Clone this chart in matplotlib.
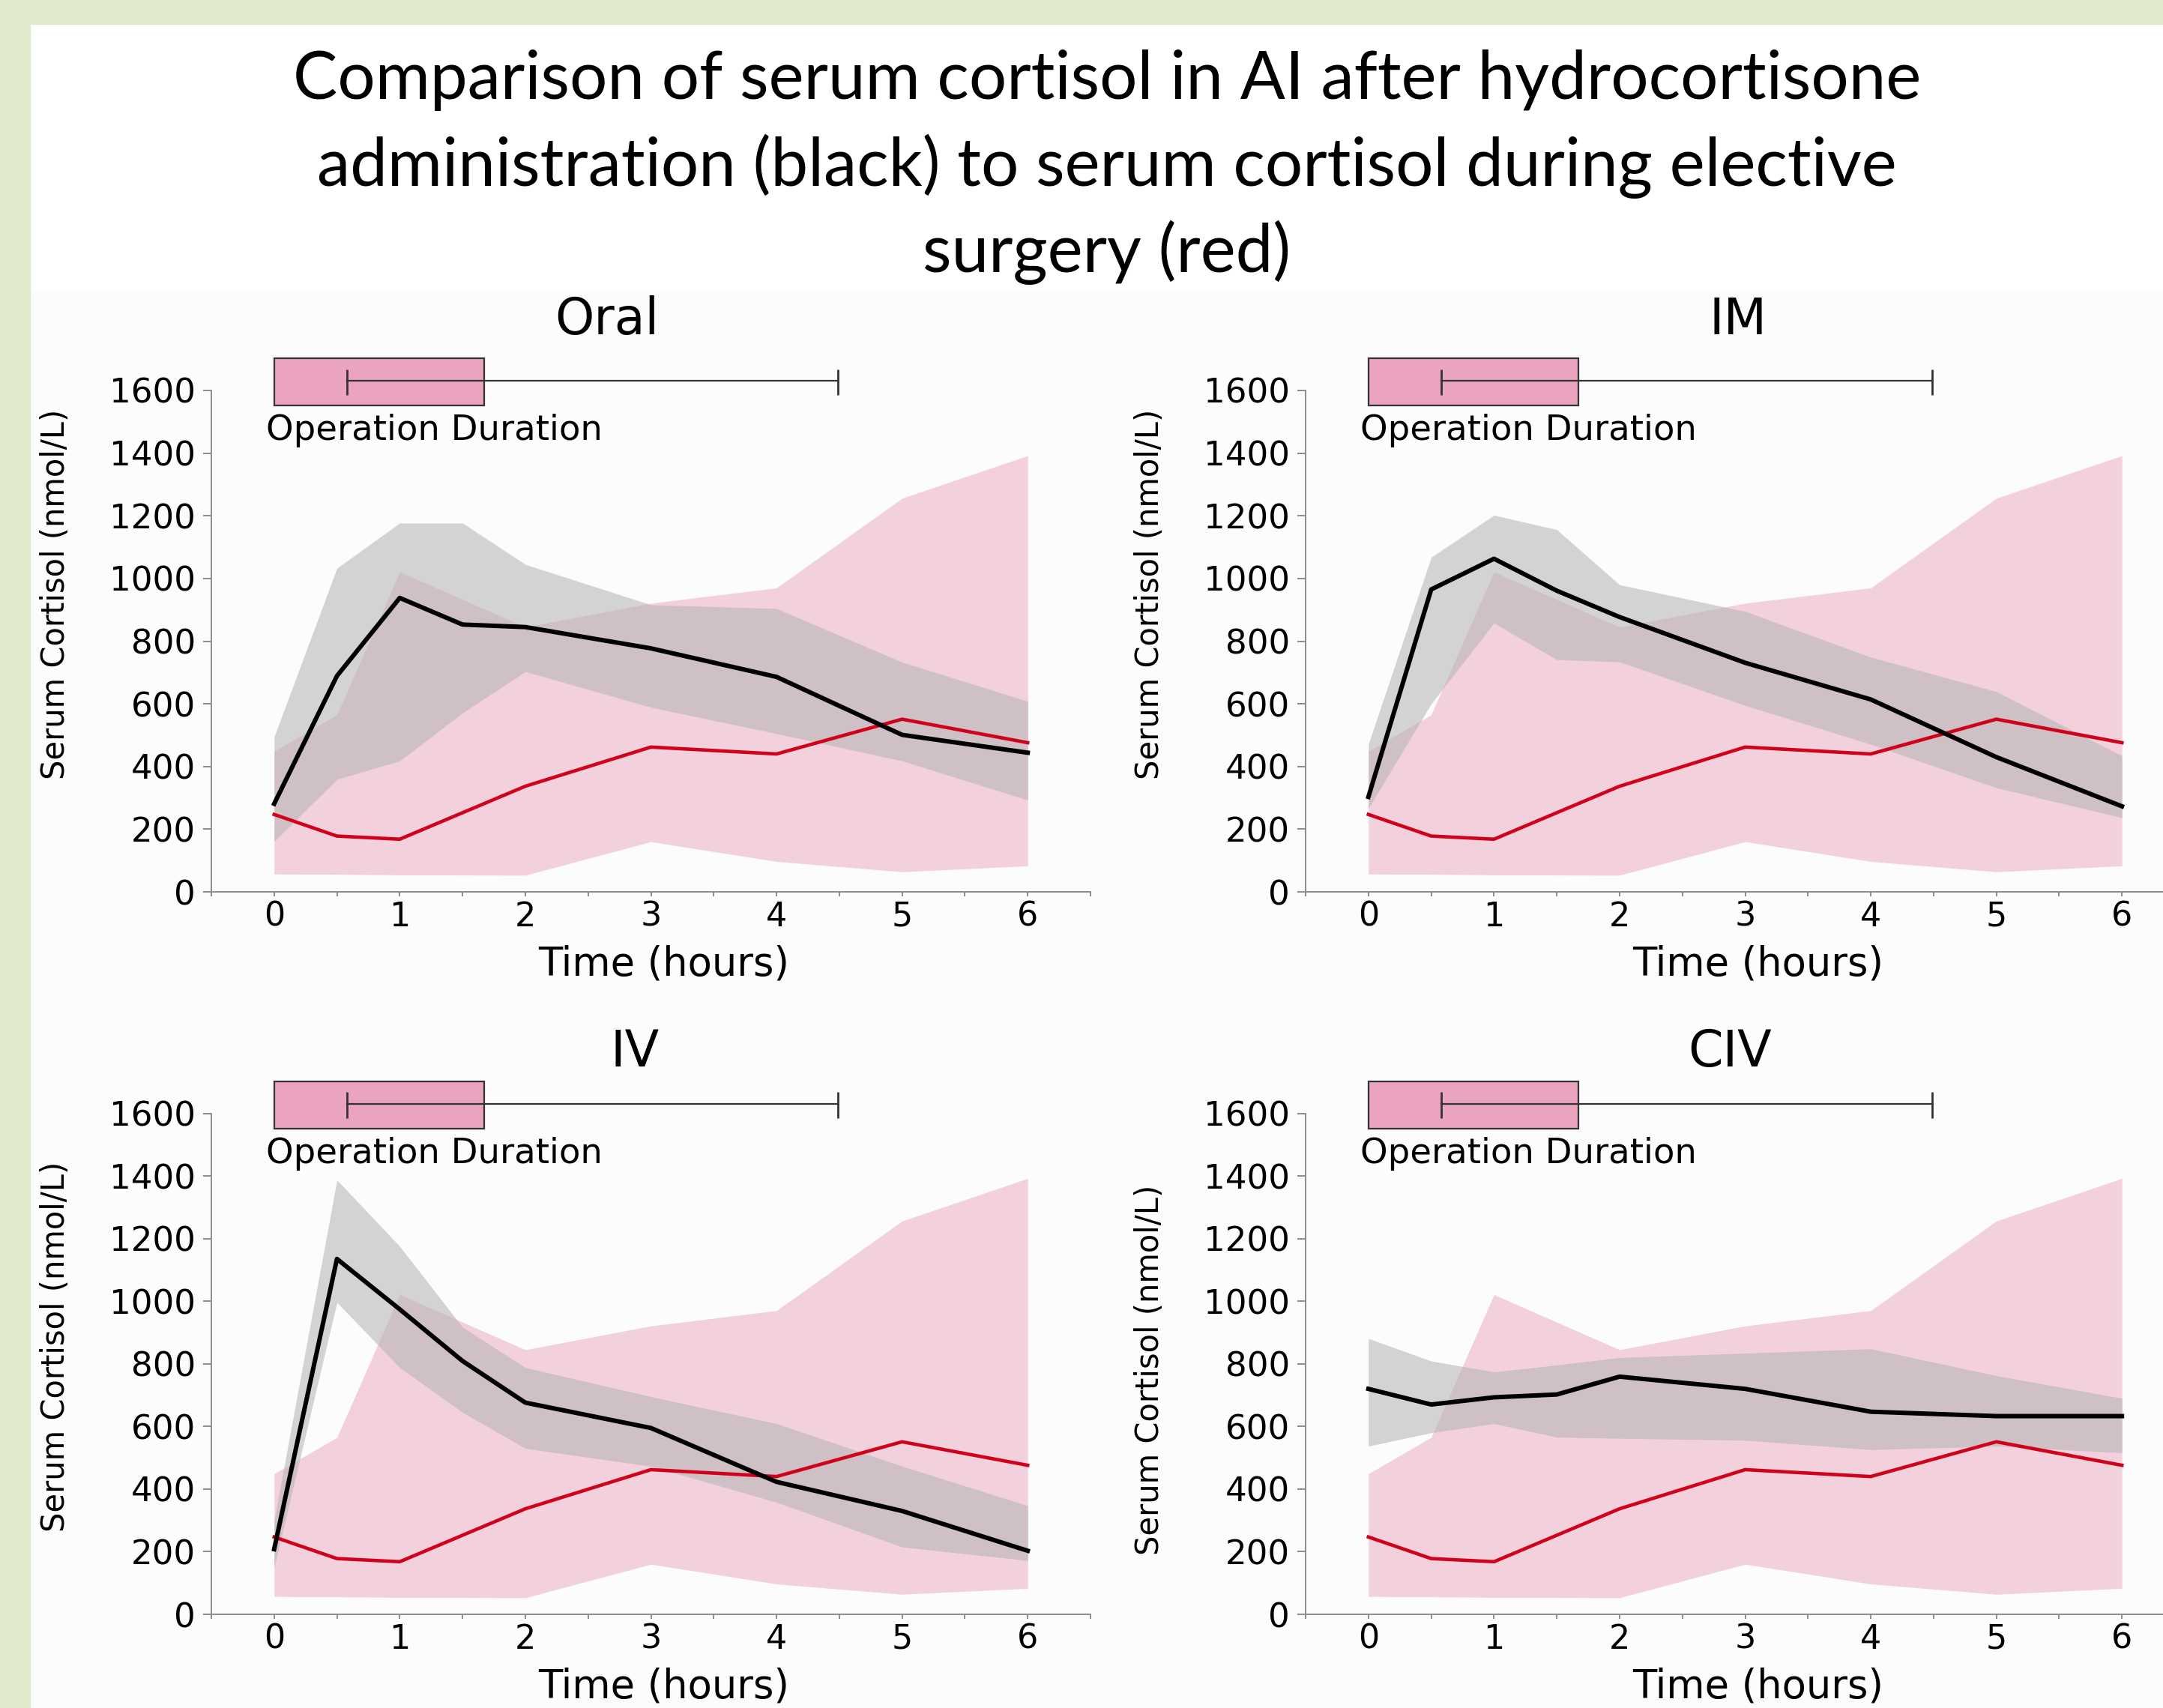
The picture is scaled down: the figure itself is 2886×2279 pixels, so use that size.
import numpy as np
import matplotlib.pyplot as plt
from matplotlib.patches import Rectangle

# - - - data (serum cortisol, nmol/L) - - -
t_ai = [0, 0.5, 1, 1.5, 2, 3, 4, 5, 6]
t_surg = [0, 0.5, 1, 2, 3, 4, 5, 6]

# elective surgery (red), same in every panel
surg_mean = [247, 178, 168, 337, 462, 440, 551, 476]
surg_hi = [449, 565, 1021, 845, 921, 970, 1256, 1392]
surg_lo = [57, 56, 54, 53, 160, 97, 64, 83]

# hydrocortisone administration (black)
oral_mean = [281, 689, 938, 853, 845, 777, 686, 501, 444]
oral_hi = [495, 1033, 1177, 1177, 1045, 916, 904, 733, 608]
oral_lo = [161, 359, 418, 571, 703, 589, 505, 418, 293]

im_mean = [303, 965, 1063, 961, 877, 731, 614, 430, 273]
im_hi = [471, 1068, 1202, 1156, 980, 895, 749, 639, 434]
im_lo = [266, 600, 858, 741, 734, 595, 471, 332, 237]

iv_mean = [208, 1135, 974, 809, 676, 595, 423, 330, 203]
iv_hi = [300, 1387, 1175, 917, 788, 695, 609, 473, 347]
iv_lo = [150, 996, 788, 645, 530, 473, 358, 215, 172]

civ_mean = [720, 670, 693, 702, 759, 720, 647, 633, 633]
civ_hi = [881, 809, 774, 796, 820, 834, 848, 762, 690]
civ_lo = [537, 580, 609, 566, 562, 556, 526, 537, 516]

panel_names = ['Oral', 'IM', 'IV', 'CIV']

# operation duration (hours): box and whisker
op_box = [0.0, 1.67]
op_whisker = [0.58, 4.49]

title_lines = ['Comparison of serum cortisol in AI after hydrocortisone',
               'administration (black) to serum cortisol during elective',
               'surgery (red)']

# - - - figure - - -
W, H = 2886, 2279
DPI = 100
fig = plt.figure(figsize=(W / DPI, H / DPI), dpi=DPI, facecolor='white')

# slide background pieces
fig.patches.append(Rectangle((40 / W, 0), 1, 1 - 390 / H, transform=fig.transFigure,
                             color='#FCFCFC', zorder=-2))
fig.patches.append(Rectangle((0, 1 - 32 / H), 1, 32 / H, transform=fig.transFigure,
                             color='#E1EACD', zorder=-1))
fig.patches.append(Rectangle((0, 0), 40 / W, 1, transform=fig.transFigure,
                             color='#E1EACD', zorder=-1))

for i, line in enumerate(title_lines):
    fig.text(1477 / W, 1 - (107 + 115 * i) / H, line, ha='center', va='center',
             fontsize=64, family=['Lato', 'DejaVu Sans'], color='black')

panels = [(oral_mean, oral_hi, oral_lo), (im_mean, im_hi, im_lo),
          (iv_mean, iv_hi, iv_lo), (civ_mean, civ_hi, civ_lo)]

col_left = [282 / W, 1742 / W]
ax_w = (1455 - 282) / W
row_bottom = [1 - 1190 / H, 1 - 2154 / H]
row_h = [(1190 - 521) / H, (2154 - 1485.5) / H]
title_pos = [(0.45, 1.14), (0.492, 1.14), (0.482, 1.122), (0.4825, 1.122)]
ylabel_y = [0.593, 0.593, 0.534, 0.488]

spine_col = '#8C8C8C'

for k, (mean, hi, lo) in enumerate(panels):
    r, c = divmod(k, 2)
    ax = fig.add_axes([col_left[c], row_bottom[r], ax_w, row_h[r]], zorder=2)
    ax.set_facecolor('none')

    ax.fill_between(t_surg, surg_lo, surg_hi, color='#F2D0DC', lw=0, zorder=1)
    ax.fill_between(t_ai, lo, hi, color='#B4B4B4', alpha=0.57, lw=0, zorder=2)
    ax.plot(t_surg, surg_mean, color='#D0021B', lw=3.3, zorder=3, solid_joinstyle='round')
    ax.plot(t_ai, mean, color='black', lw=4.3, zorder=4, solid_joinstyle='round')

    ax.set_xlim(-0.5, 6.5)
    ax.set_ylim(0, 1600)
    for s in ['top', 'right']:
        ax.spines[s].set_visible(False)
    for s in ['left', 'bottom']:
        ax.spines[s].set_color(spine_col)
        ax.spines[s].set_linewidth(1.4)

    ax.set_xticks(range(0, 7))
    ax.set_xticks(np.arange(-0.5, 6.6, 1.0), minor=True)
    ax.set_yticks(range(0, 1601, 200))
    ax.tick_params(axis='x', which='both', length=4.5, width=1.4, color=spine_col,
                   labelsize=32, pad=4)
    ax.tick_params(axis='y', length=8, width=1.4, color=spine_col, labelsize=32.5, pad=7)
    for lab in ax.get_xticklabels() + ax.get_yticklabels():
        lab.set_family('DejaVu Sans')

    ax.set_xlabel('Time (hours)', fontsize=38, va='center')
    ax.xaxis.set_label_coords(0.515, -97 / 669)
    ax.set_ylabel('Serum Cortisol (nmol/L)', fontsize=30, va='center')
    ax.yaxis.set_label_coords(-208 / 1173, ylabel_y[k])

    tx, ty = title_pos[k]
    ax.text(tx, ty, panel_names[k], transform=ax.transAxes, ha='center', va='center',
            fontsize=48)

    # operation duration marker above the plot
    ax.add_patch(Rectangle((op_box[0], 1552), op_box[1] - op_box[0], 150,
                           facecolor='#EAA4C0', edgecolor='#333333', lw=1.6,
                           clip_on=False, zorder=5))
    ax.plot(op_whisker, [1630, 1630], color='#333333', lw=1.6, clip_on=False, zorder=6)
    ax.vlines(op_whisker, 1585, 1668, color='#333333', lw=2.0, clip_on=False, zorder=6)
    ax.text(-0.066, 1442, 'Operation Duration', ha='left', va='baseline', fontsize=33.5,
            zorder=6)

fig.savefig('out.png', dpi=DPI, facecolor=fig.get_facecolor())
